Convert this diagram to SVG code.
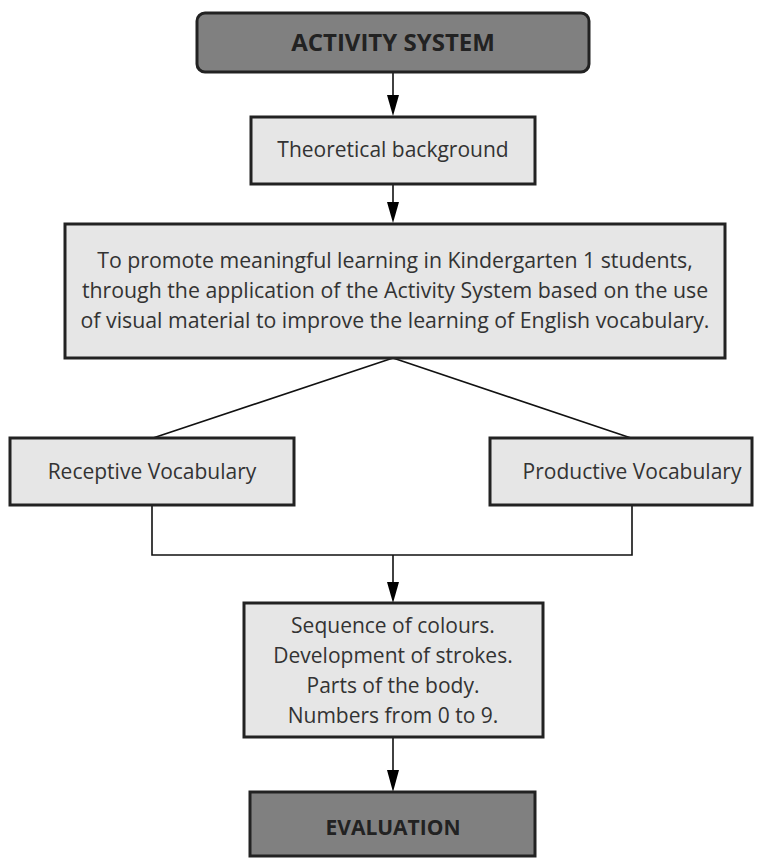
<svg xmlns="http://www.w3.org/2000/svg" width="764" height="861" viewBox="0 0 764 861">
<style>
.dark{fill:#808080;stroke:#222;stroke-width:3}
.light{fill:#e6e6e6;stroke:#222;stroke-width:3}
.t{font-family:"Open Sans","Noto Sans",sans-serif;fill:#333;text-anchor:middle}
.b{font-weight:bold;fill:#222}
.c{stroke:#111;stroke-width:1.6;fill:none}
.ah{fill:#000}
</style>
<g id="connectors">
<line class="c" x1="393" y1="72" x2="393" y2="96"/>
<path class="ah" d="M387,95 L399,95 L393,116 Z"/>
<line class="c" x1="393" y1="184" x2="393" y2="203"/>
<path class="ah" d="M387,202 L399,202 L393,223 Z"/>
<line class="c" x1="393" y1="358" x2="153" y2="438"/>
<line class="c" x1="393" y1="358" x2="631" y2="438"/>
<polyline class="c" points="152,505 152,555 632,555 632,505"/>
<line class="c" x1="393" y1="555" x2="393" y2="583"/>
<path class="ah" d="M387,582 L399,582 L393,603 Z"/>
<line class="c" x1="393" y1="737" x2="393" y2="771"/>
<path class="ah" d="M387,770 L399,770 L393,792 Z"/>
</g>
<g id="activity-system">
<rect class="dark" x="197" y="13" width="392" height="59" rx="8"/>
<text class="t b" x="393" y="51" font-size="24">ACTIVITY SYSTEM</text>
</g>
<g id="theoretical-background">
<rect class="light" x="251" y="117" width="284" height="67"/>
<text class="t" x="393" y="157" font-size="21">Theoretical background</text>
</g>
<g id="objective">
<rect class="light" x="65" y="224" width="660" height="134"/>
<text class="t" x="395" y="268" font-size="21.3">To promote meaningful learning in Kindergarten 1 students,</text>
<text class="t" x="395" y="298" font-size="21.3">through the application of the Activity System based on the use</text>
<text class="t" x="395" y="328" font-size="21.3">of visual material to improve the learning of English vocabulary.</text>
</g>
<g id="receptive">
<rect class="light" x="10" y="438" width="284" height="67"/>
<text class="t" x="152" y="479" font-size="21">Receptive Vocabulary</text>
</g>
<g id="productive">
<rect class="light" x="490" y="438" width="262" height="67"/>
<text class="t" x="632" y="479" font-size="21">Productive Vocabulary</text>
</g>
<g id="topics">
<rect class="light" x="244" y="603" width="299" height="134"/>
<text class="t" x="393" y="633" font-size="21">Sequence of colours.</text>
<text class="t" x="393" y="663" font-size="21">Development of strokes.</text>
<text class="t" x="393" y="693" font-size="21">Parts of the body.</text>
<text class="t" x="393" y="723" font-size="21">Numbers from 0 to 9.</text>
</g>
<g id="evaluation">
<rect class="dark" x="250" y="792" width="285" height="64"/>
<text class="t b" x="393" y="835" font-size="21">EVALUATION</text>
</g>
</svg>
